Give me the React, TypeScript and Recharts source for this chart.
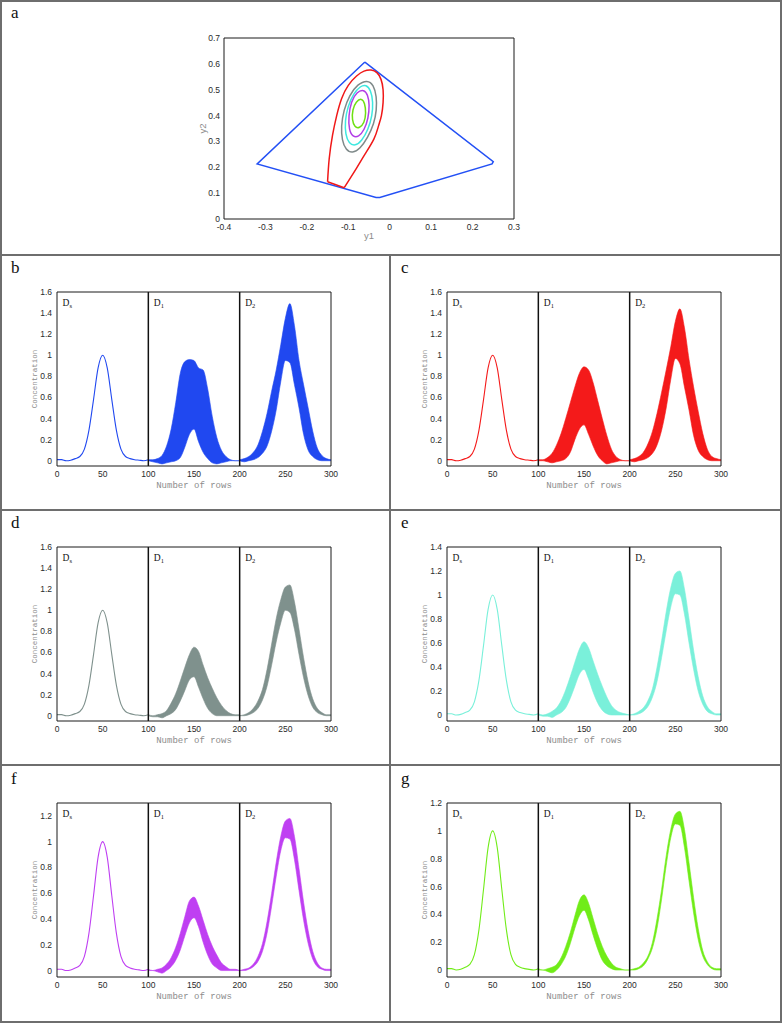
import React from "react";
import { ComposedChart, Line, Area, XAxis, YAxis, ReferenceLine } from "recharts";

const FONT_SANS = "'Liberation Sans', Arial, sans-serif";
const FONT_MONO = "'Liberation Mono', 'DejaVu Sans Mono', monospace";
const FONT_SERIF = "'Liberation Serif', 'DejaVu Serif', serif";

type Pt = [number, number];

// ---- panel a: y1 / y2 feasible regions ----
const aXTicks = [-0.4, -0.3, -0.2, -0.1, 0, 0.1, 0.2, 0.3];
const aYTicks = [0, 0.1, 0.2, 0.3, 0.4, 0.5, 0.6, 0.7];

const blueHull: Pt[] = [
  [-0.06, 0.607], [0.25, 0.222], [0.247, 0.213], [-0.024, 0.083],
  [-0.033, 0.083], [-0.32, 0.213], [-0.06, 0.607],
];
const redCurve: Pt[] = [
  [-0.15, 0.144], [-0.146, 0.234], [-0.138, 0.324], [-0.128, 0.4], [-0.116, 0.466],
  [-0.1, 0.517], [-0.08, 0.553], [-0.062, 0.572], [-0.045, 0.576], [-0.031, 0.566],
  [-0.021, 0.54], [-0.016, 0.5], [-0.016, 0.45], [-0.02, 0.4], [-0.027, 0.36],
  [-0.038, 0.31], [-0.06, 0.25], [-0.08, 0.197], [-0.11, 0.121],
];
const redBase: Pt[] = [[-0.11, 0.121], [-0.15, 0.144]];
const grayLoop: Pt[] = [
  [-0.0538, 0.538], [-0.039, 0.519], [-0.0316, 0.474], [-0.0316, 0.421], [-0.0379, 0.368],
  [-0.0528, 0.315], [-0.0718, 0.271], [-0.0899, 0.254], [-0.1058, 0.266], [-0.1153, 0.305],
  [-0.1174, 0.358], [-0.1111, 0.421], [-0.0973, 0.479], [-0.0772, 0.522],
];
const cyanLoop: Pt[] = [
  [-0.057, 0.52], [-0.0454, 0.4975], [-0.0401, 0.453], [-0.0422, 0.4], [-0.0517, 0.347],
  [-0.0676, 0.3014], [-0.0835, 0.282], [-0.0984, 0.292], [-0.1069, 0.326], [-0.1079, 0.379],
  [-0.1016, 0.434], [-0.0867, 0.487], [-0.0708, 0.514],
];
const purpleLoop: Pt[] = [
  [-0.0623, 0.501], [-0.0528, 0.481], [-0.0486, 0.442], [-0.0517, 0.389], [-0.0613, 0.344],
  [-0.0751, 0.317], [-0.0888, 0.317], [-0.0984, 0.344], [-0.0994, 0.3995], [-0.0931, 0.4546],
  [-0.0793, 0.4917],
];
const greenLoop: Pt[] = [
  [-0.0676, 0.468], [-0.0602, 0.449], [-0.057, 0.41], [-0.0613, 0.371], [-0.0729, 0.351],
  [-0.0846, 0.354], [-0.091, 0.3835], [-0.0899, 0.4227], [-0.0814, 0.4545],
];

// ---- panels b-g: concentration profiles ----
const chromTicks = [0, 50, 100, 150, 200, 250, 300];
const xDs = [0, 5, 10, 15, 20, 25, 30, 35, 40, 45, 50, 55, 60, 65, 70, 75, 80, 85, 90, 95, 100];
const xD1 = [100, 105, 110, 115, 120, 125, 130, 135, 140, 145, 150, 155, 160, 165, 170, 175, 180, 185, 190, 195, 200];
const xD2 = [200, 205, 210, 215, 220, 225, 230, 235, 240, 245, 250, 255, 260, 265, 270, 275, 280, 285, 290, 295, 300];
const dsCurve = [0.01, 0.01, 0.0, 0.005, 0.02, 0.04, 0.11, 0.29, 0.58, 0.88, 1.0, 0.88, 0.58, 0.29, 0.11, 0.04, 0.02, 0.01, 0.005, 0.0, 0.01];

const bD1Lo = [0.0, -0.01, -0.02, -0.03, -0.02, -0.01, 0.0, 0.03, 0.13, 0.25, 0.3, 0.18, 0.08, 0.02, -0.02, -0.03, -0.02, -0.01, 0.0, 0.0, 0.0];
const bD1Hi = [0.01, 0.01, 0.02, 0.05, 0.14, 0.3, 0.55, 0.83, 0.94, 0.96, 0.95, 0.88, 0.86, 0.68, 0.42, 0.22, 0.1, 0.04, 0.01, 0.0, 0.0];
const bD2Lo = [0.0, -0.01, 0.0, 0.01, 0.03, 0.07, 0.14, 0.28, 0.48, 0.75, 0.95, 0.93, 0.72, 0.5, 0.25, 0.1, 0.04, 0.01, 0.0, 0.0, 0.0];
const bD2Hi = [0.01, 0.02, 0.04, 0.08, 0.15, 0.28, 0.45, 0.66, 0.86, 1.1, 1.35, 1.49, 1.28, 0.95, 0.72, 0.5, 0.28, 0.12, 0.05, 0.02, 0.01];

const cD1Lo = [0.0, 0.0, -0.01, -0.02, -0.01, 0.0, 0.02, 0.08, 0.2, 0.3, 0.34, 0.25, 0.14, 0.05, 0.0, -0.03, -0.02, -0.01, 0.0, 0.0, 0.0];
const cD1Hi = [0.01, 0.01, 0.03, 0.07, 0.15, 0.26, 0.4, 0.55, 0.7, 0.83, 0.89, 0.86, 0.74, 0.57, 0.4, 0.24, 0.11, 0.04, 0.01, 0.0, 0.0];
const cD2Lo = [0.0, -0.01, 0.0, 0.01, 0.03, 0.07, 0.15, 0.29, 0.5, 0.77, 0.97, 0.92, 0.7, 0.48, 0.24, 0.1, 0.04, 0.01, 0.0, 0.0, 0.0];
const cD2Hi = [0.01, 0.02, 0.04, 0.08, 0.16, 0.28, 0.45, 0.65, 0.86, 1.08, 1.32, 1.44, 1.26, 0.96, 0.7, 0.47, 0.26, 0.11, 0.04, 0.02, 0.01];

const dD1Lo = [0.0, -0.01, -0.01, -0.02, 0.0, 0.02, 0.06, 0.14, 0.24, 0.34, 0.37, 0.27, 0.16, 0.07, 0.02, 0.0, 0.0, 0.0, 0.0, 0.0, 0.0];
const dD1Hi = [0.01, 0.0, 0.01, 0.02, 0.05, 0.12, 0.21, 0.33, 0.46, 0.58, 0.65, 0.61, 0.48, 0.36, 0.26, 0.17, 0.1, 0.05, 0.02, 0.01, 0.01];
const dD2Lo = [0.0, 0.0, 0.01, 0.03, 0.07, 0.15, 0.28, 0.48, 0.7, 0.88, 1.0, 0.98, 0.82, 0.58, 0.36, 0.19, 0.08, 0.03, 0.01, 0.0, 0.0];
const dD2Hi = [0.0, 0.01, 0.03, 0.07, 0.14, 0.25, 0.44, 0.68, 0.92, 1.1, 1.22, 1.24, 1.08, 0.82, 0.55, 0.32, 0.16, 0.07, 0.03, 0.01, 0.01];

const eD1Lo = [0.0, -0.01, -0.01, -0.02, 0.0, 0.02, 0.06, 0.14, 0.24, 0.34, 0.38, 0.3, 0.19, 0.1, 0.04, 0.01, 0.0, 0.0, 0.0, 0.0, 0.0];
const eD1Hi = [0.01, 0.0, 0.01, 0.03, 0.06, 0.12, 0.21, 0.32, 0.44, 0.55, 0.61, 0.56, 0.45, 0.34, 0.24, 0.15, 0.08, 0.04, 0.02, 0.01, 0.0];
const eD2Lo = [0.0, 0.0, 0.01, 0.03, 0.07, 0.15, 0.28, 0.48, 0.7, 0.9, 1.01, 1.0, 0.84, 0.6, 0.38, 0.2, 0.09, 0.03, 0.01, 0.0, 0.0];
const eD2Hi = [0.0, 0.01, 0.03, 0.06, 0.12, 0.22, 0.4, 0.62, 0.86, 1.06, 1.18, 1.2, 1.05, 0.8, 0.54, 0.32, 0.16, 0.07, 0.03, 0.01, 0.01];

const fD1Lo = [0.0, 0.0, -0.01, -0.02, 0.0, 0.03, 0.08, 0.16, 0.27, 0.37, 0.41, 0.34, 0.22, 0.12, 0.05, 0.02, 0.0, 0.0, 0.0, 0.0, 0.0];
const fD1Hi = [0.01, 0.0, 0.01, 0.02, 0.05, 0.1, 0.18, 0.29, 0.42, 0.54, 0.57, 0.5, 0.39, 0.28, 0.19, 0.12, 0.06, 0.03, 0.01, 0.01, 0.0];
const fD2Lo = [0.0, 0.0, 0.01, 0.03, 0.07, 0.15, 0.29, 0.5, 0.73, 0.93, 1.03, 1.02, 0.86, 0.62, 0.39, 0.21, 0.09, 0.03, 0.01, 0.0, 0.0];
const fD2Hi = [0.0, 0.01, 0.02, 0.05, 0.11, 0.21, 0.38, 0.6, 0.84, 1.04, 1.16, 1.18, 1.04, 0.79, 0.53, 0.31, 0.15, 0.06, 0.02, 0.01, 0.01];

const gD1Lo = [0.0, 0.0, -0.01, -0.02, 0.0, 0.04, 0.1, 0.19, 0.3, 0.39, 0.43, 0.36, 0.25, 0.15, 0.07, 0.03, 0.01, 0.0, 0.0, 0.0, 0.0];
const gD1Hi = [0.01, 0.0, 0.01, 0.02, 0.04, 0.09, 0.17, 0.27, 0.39, 0.5, 0.54, 0.48, 0.37, 0.26, 0.17, 0.1, 0.05, 0.02, 0.01, 0.0, 0.0];
const gD2Lo = [0.0, 0.0, 0.01, 0.03, 0.08, 0.16, 0.3, 0.51, 0.75, 0.95, 1.05, 1.04, 0.88, 0.64, 0.41, 0.22, 0.1, 0.04, 0.01, 0.0, 0.0];
const gD2Hi = [0.0, 0.01, 0.02, 0.05, 0.1, 0.2, 0.37, 0.58, 0.82, 1.01, 1.12, 1.14, 1.01, 0.77, 0.52, 0.3, 0.14, 0.06, 0.02, 0.01, 0.01];

const ticks16 = [0, 0.2, 0.4, 0.6, 0.8, 1, 1.2, 1.4, 1.6];
const ticks14 = [0, 0.2, 0.4, 0.6, 0.8, 1, 1.2, 1.4];
const ticks12 = [0, 0.2, 0.4, 0.6, 0.8, 1, 1.2];

const panels = [
  { tag: "b", left: 0, top: 255, color: "#2048f0", yMax: 1.6, yTicks: ticks16, lo1: bD1Lo, hi1: bD1Hi, lo2: bD2Lo, hi2: bD2Hi },
  { tag: "c", left: 390, top: 255, color: "#f41a1a", yMax: 1.6, yTicks: ticks16, lo1: cD1Lo, hi1: cD1Hi, lo2: cD2Lo, hi2: cD2Hi },
  { tag: "d", left: 0, top: 510, color: "#7f918d", yMax: 1.6, yTicks: ticks16, lo1: dD1Lo, hi1: dD1Hi, lo2: dD2Lo, hi2: dD2Hi },
  { tag: "e", left: 390, top: 510, color: "#7af0da", yMax: 1.4, yTicks: ticks14, lo1: eD1Lo, hi1: eD1Hi, lo2: eD2Lo, hi2: eD2Hi },
  { tag: "f", left: 0, top: 766, color: "#bf3ff2", yMax: 1.3, yTicks: ticks12, lo1: fD1Lo, hi1: fD1Hi, lo2: fD2Lo, hi2: fD2Hi },
  { tag: "g", left: 390, top: 766, color: "#70ec18", yMax: 1.2, yTicks: ticks12, lo1: gD1Lo, hi1: gD1Hi, lo2: gD2Lo, hi2: gD2Hi },
];

const toXY = (pts: Pt[]) => pts.map(([x, y]) => ({ x, y }));

function buildRows(lo1: number[], hi1: number[], lo2: number[], hi2: number[]) {
  const rows = new Map<number, any>();
  const get = (x: number) => {
    if (!rows.has(x)) rows.set(x, { x });
    return rows.get(x);
  };
  xDs.forEach((x, i) => (get(x).ds = dsCurve[i]));
  xD1.forEach((x, i) => (get(x).d1 = [lo1[i], hi1[i]]));
  xD2.forEach((x, i) => (get(x).d2 = [lo2[i], hi2[i]]));
  return [...rows.values()].sort((a, b) => a.x - b.x);
}

// inward ticks on all four sides, plus the black frame
const frameAxes = (xDomain: number[], xTicks: number[], yDomain: number[], yTicks: number[]) => {
  const ln = { stroke: "#1a1a1a", strokeWidth: 1 };
  const common = { tick: false as const, tickSize: 3, axisLine: ln, tickLine: ln, mirror: true, allowDataOverflow: true };
  return [
    <XAxis key="fb" xAxisId="fb" type="number" dataKey="x" domain={xDomain} ticks={xTicks} orientation="bottom" {...common} />,
    <XAxis key="ft" xAxisId="ft" type="number" dataKey="x" domain={xDomain} ticks={xTicks} orientation="top" {...common} />,
    <YAxis key="fl" yAxisId="fl" type="number" domain={yDomain} ticks={yTicks} orientation="left" {...common} />,
    <YAxis key="fr" yAxisId="fr" type="number" domain={yDomain} ticks={yTicks} orientation="right" {...common} />,
  ];
};

const tickStyle = { fontSize: 8.5, fill: "#2a2a2a", fontFamily: FONT_SANS };

const segTag = (sub: string) => (props: any) => {
  const vb = props.viewBox || { x: 0, y: 0 };
  return (
    <text x={vb.x + 5.5} y={vb.y + 13.5} fontFamily={FONT_SERIF} fontSize={9.5} fill="#111">
      D<tspan fontSize={6.5} dy={2.5}>{sub}</tspan>
    </text>
  );
};

function Chrom({ p }: { p: (typeof panels)[number] }) {
  const rows = buildRows(p.lo1, p.hi1, p.lo2, p.hi2);
  const yDomain = [-0.05, p.yMax];
  return (
    <ComposedChart width={390} height={255} data={rows} margin={{ top: 37, right: 59, bottom: 14, left: 12 }}>
      <XAxis
        type="number" dataKey="x" domain={[0, 300]} ticks={chromTicks} allowDataOverflow
        axisLine={false} tickLine={false} tickSize={0} tickMargin={5} height={30} tick={tickStyle}
        label={{ value: "Number of rows", position: "insideBottom", offset: 8, fontSize: 9, fill: "#8c8c8c", fontFamily: FONT_MONO }}
      />
      <YAxis
        type="number" domain={yDomain} ticks={p.yTicks} allowDataOverflow
        axisLine={false} tickLine={false} tickSize={0} tickMargin={5} width={45} tick={tickStyle}
        label={{ value: "Concentration", angle: -90, position: "insideLeft", offset: 22, textAnchor: "middle", fontSize: 7.5, fill: "#8c8c8c", fontFamily: FONT_MONO }}
      />
      {frameAxes([0, 300], chromTicks, yDomain, p.yTicks)}
      <Area dataKey="d1" type="monotone" stroke={p.color} strokeWidth={0.6} fill={p.color} fillOpacity={1} isAnimationActive={false} />
      <Area dataKey="d2" type="monotone" stroke={p.color} strokeWidth={0.6} fill={p.color} fillOpacity={1} isAnimationActive={false} />
      <Line dataKey="ds" type="monotone" stroke={p.color} strokeWidth={1.1} dot={false} isAnimationActive={false} />
      <ReferenceLine x={0} stroke="none" label={segTag("s")} />
      <ReferenceLine x={100} stroke="#111" strokeWidth={1.5} label={segTag("1")} />
      <ReferenceLine x={200} stroke="#111" strokeWidth={1.5} label={segTag("2")} />
    </ComposedChart>
  );
}

function RegionChart() {
  const yDomain = [0, 0.7];
  const xDomain = [-0.4, 0.3];
  const loops: { pts: Pt[]; color: string; type: any }[] = [
    { pts: blueHull, color: "#2350f5", type: "linear" },
    { pts: redCurve, color: "#f01818", type: "natural" },
    { pts: redBase, color: "#f01818", type: "linear" },
    { pts: grayLoop, color: "#7f8a8a", type: "basisClosed" },
    { pts: cyanLoop, color: "#3ee8e0", type: "basisClosed" },
    { pts: purpleLoop, color: "#b13ee6", type: "basisClosed" },
    { pts: greenLoop, color: "#6ee012", type: "basisClosed" },
  ];
  return (
    <ComposedChart width={782} height={255} margin={{ top: 38, right: 268, bottom: 8, left: 184 }}>
      <XAxis
        type="number" dataKey="x" domain={xDomain} ticks={aXTicks} allowDataOverflow
        axisLine={false} tickLine={false} tickSize={0} tickMargin={5} height={28} tick={tickStyle}
        label={{ value: "y1", position: "insideBottom", offset: 8, fontSize: 9.5, fill: "#8c8c8c", fontFamily: FONT_SANS }}
      />
      <YAxis
        type="number" domain={yDomain} ticks={aYTicks} allowDataOverflow
        axisLine={false} tickLine={false} tickSize={0} tickMargin={4} width={40} tick={tickStyle}
        label={{ value: "y2", angle: -90, position: "insideLeft", offset: 19, textAnchor: "middle", fontSize: 9.5, fill: "#8c8c8c", fontFamily: FONT_SANS }}
      />
      {frameAxes(xDomain, aXTicks, yDomain, aYTicks)}
      {loops.map((l, i) => (
        <Line key={i} data={toXY(l.pts)} dataKey="y" type={l.type} stroke={l.color} strokeWidth={1.5} dot={false} isAnimationActive={false} />
      ))}
    </ComposedChart>
  );
}

const Tag = ({ ch, left, top }: { ch: string; left: number; top: number }) => (
  <div style={{ position: "absolute", left, top, fontFamily: FONT_SERIF, fontSize: 17, lineHeight: "17px", color: "#111" }}>{ch}</div>
);

const rule = (left: number, top: number, width: number, height: number) => (
  <div style={{ position: "absolute", left, top, width, height, background: "#6e6e6e" }} />
);

export default function App() {
  return (
    <div style={{ position: "absolute", left: 0, top: 0, width: 782, height: 1023, background: "#fff", overflow: "hidden" }}>
      <div style={{ position: "absolute", left: 0, top: 0 }}>
        <RegionChart />
      </div>
      {panels.map((p) => (
        <div key={p.tag} style={{ position: "absolute", left: p.left, top: p.top }}>
          <Chrom p={p} />
        </div>
      ))}
      <Tag ch="a" left={11} top={4} />
      {panels.map((p) => (
        <Tag key={p.tag} ch={p.tag} left={p.left + 11} top={p.top + 4} />
      ))}
      {rule(0, 0, 782, 2)}
      {rule(0, 1021, 782, 2)}
      {rule(0, 0, 2, 1023)}
      {rule(780, 0, 2, 1023)}
      {rule(0, 254, 782, 2)}
      {rule(0, 509, 782, 2)}
      {rule(0, 764, 782, 2)}
      {rule(389, 255, 2, 768)}
    </div>
  );
}
